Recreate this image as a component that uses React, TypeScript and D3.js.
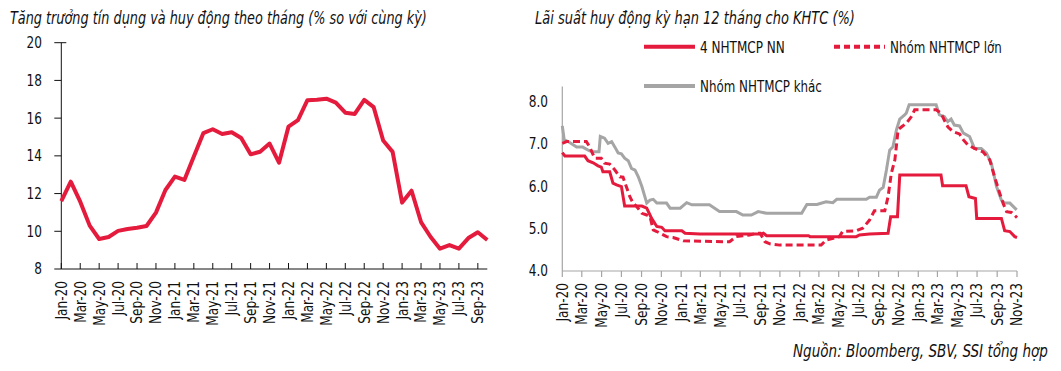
import { useEffect, useRef } from 'react';
import * as d3 from 'd3';

// Left chart: monthly credit growth, % y/y (Jan-20 .. Oct-23)
const creditGrowth = [
  11.6, 12.63, 11.57, 10.3, 9.59, 9.7, 10.02, 10.12, 10.19, 10.28, 10.99, 12.19,
  12.9, 12.72, 13.96, 15.2, 15.41, 15.16, 15.25, 14.95, 14.08, 14.22, 14.65, 13.64,
  15.55, 15.9, 16.95, 16.97, 17.03, 16.82, 16.29, 16.22, 16.97, 16.58, 14.81, 14.21,
  11.52, 12.15, 10.49, 9.71, 9.08, 9.27, 9.08, 9.64, 9.95, 9.54,
];
const leftYTicks = [8, 10, 12, 14, 16, 18, 20];

// Right chart: 12-month deposit rate (%)
const stateBanks: [string, number][] = [
  ['2020-01-01', 6.79], ['2020-01-09', 6.71], ['2020-03-10', 6.71], ['2020-03-20', 6.6],
  ['2020-04-05', 6.55], ['2020-04-20', 6.48], ['2020-04-30', 6.45], ['2020-05-05', 6.34],
  ['2020-05-26', 6.34], ['2020-06-05', 6.07], ['2020-06-16', 6.03], ['2020-07-01', 5.99],
  ['2020-07-11', 5.53], ['2020-09-02', 5.53], ['2020-09-17', 5.48], ['2020-09-27', 5.32],
  ['2020-10-02', 5.24], ['2020-10-18', 5.05], ['2020-11-02', 5.03], ['2020-11-12', 4.95],
  ['2021-01-03', 4.95], ['2021-01-13', 4.89], ['2021-02-28', 4.87], ['2021-09-01', 4.87],
  ['2021-09-11', 4.89], ['2021-09-21', 4.83], ['2022-01-28', 4.83], ['2022-02-02', 4.81],
  ['2022-06-24', 4.81], ['2022-07-04', 4.85], ['2022-08-04', 4.87], ['2022-09-30', 4.89],
  ['2022-10-08', 5.28], ['2022-10-29', 5.28], ['2022-11-05', 6.26], ['2023-03-12', 6.26],
  ['2023-03-17', 6.01], ['2023-05-28', 6.01], ['2023-06-06', 5.75], ['2023-06-26', 5.71],
  ['2023-06-30', 5.24], ['2023-09-14', 5.24], ['2023-09-24', 4.95], ['2023-10-10', 4.93],
  ['2023-10-25', 4.81], ['2023-11-01', 4.79],
];
const largeBanks: [string, number][] = [
  ['2020-01-01', 7.01], ['2020-01-14', 7.05], ['2020-03-15', 7.05], ['2020-03-25', 6.93],
  ['2020-04-05', 6.74], ['2020-04-10', 6.66], ['2020-04-30', 6.66], ['2020-05-10', 6.54],
  ['2020-05-26', 6.52], ['2020-06-11', 6.38], ['2020-06-26', 6.22], ['2020-07-06', 6.21],
  ['2020-07-16', 5.99], ['2020-07-27', 5.75], ['2020-08-06', 5.6], ['2020-08-17', 5.52],
  ['2020-09-02', 5.36], ['2020-09-17', 5.32], ['2020-09-27', 5.28], ['2020-10-07', 4.97],
  ['2020-10-18', 4.93], ['2020-11-07', 4.85], ['2020-11-17', 4.81], ['2020-12-07', 4.79],
  ['2021-01-08', 4.71], ['2021-05-09', 4.69], ['2021-05-30', 4.69], ['2021-06-20', 4.81],
  ['2021-07-10', 4.83], ['2021-07-31', 4.85], ['2021-08-21', 4.89], ['2021-09-01', 4.89],
  ['2021-09-16', 4.69], ['2021-10-01', 4.64], ['2021-11-01', 4.61], ['2022-03-08', 4.61],
  ['2022-03-23', 4.73], ['2022-05-03', 4.81], ['2022-05-13', 4.93], ['2022-06-24', 4.95],
  ['2022-07-14', 5.01], ['2022-08-04', 5.2], ['2022-08-19', 5.42], ['2022-09-20', 5.42],
  ['2022-09-30', 5.75], ['2022-10-10', 6.3], ['2022-10-21', 6.62], ['2022-10-31', 7.33],
  ['2022-11-11', 7.4], ['2022-11-25', 7.48], ['2022-12-11', 7.64], ['2022-12-21', 7.8],
  ['2023-02-25', 7.8], ['2023-03-12', 7.72], ['2023-03-22', 7.56], ['2023-04-02', 7.4],
  ['2023-04-17', 7.29], ['2023-05-08', 7.23], ['2023-05-20', 7.09], ['2023-06-03', 6.97],
  ['2023-06-23', 6.89], ['2023-07-19', 6.81], ['2023-08-09', 6.62], ['2023-08-24', 6.22],
  ['2023-09-09', 5.83], ['2023-09-19', 5.6], ['2023-09-30', 5.4], ['2023-10-15', 5.38],
  ['2023-11-01', 5.26],
];
const otherBanks: [string, number][] = [
  ['2020-01-01', 7.42], ['2020-01-07', 7.09], ['2020-01-19', 7.05], ['2020-02-14', 6.92],
  ['2020-03-04', 6.92], ['2020-03-25', 6.83], ['2020-04-05', 6.81], ['2020-04-23', 6.81],
  ['2020-04-27', 7.17], ['2020-05-10', 7.13], ['2020-05-21', 7.01], ['2020-06-01', 7.05],
  ['2020-06-11', 6.92], ['2020-06-21', 6.78], ['2020-07-01', 6.76], ['2020-07-11', 6.66],
  ['2020-07-22', 6.6], ['2020-08-01', 6.42], ['2020-08-12', 6.38], ['2020-08-22', 6.22],
  ['2020-09-02', 5.99], ['2020-09-17', 5.6], ['2020-09-27', 5.67], ['2020-10-07', 5.69],
  ['2020-10-18', 5.6], ['2020-11-17', 5.6], ['2020-11-28', 5.48], ['2020-12-29', 5.48],
  ['2021-01-18', 5.61], ['2021-02-03', 5.56], ['2021-03-29', 5.56], ['2021-04-29', 5.4],
  ['2021-06-20', 5.4], ['2021-07-10', 5.32], ['2021-08-05', 5.32], ['2021-08-26', 5.4],
  ['2021-09-21', 5.36], ['2022-01-07', 5.36], ['2022-01-23', 5.57], ['2022-02-23', 5.57],
  ['2022-03-23', 5.63], ['2022-04-13', 5.61], ['2022-04-25', 5.69], ['2022-07-25', 5.69],
  ['2022-08-04', 5.74], ['2022-08-25', 5.74], ['2022-09-04', 5.91], ['2022-09-15', 5.97],
  ['2022-09-25', 6.38], ['2022-10-05', 6.85], ['2022-10-15', 6.93], ['2022-10-26', 7.33],
  ['2022-11-05', 7.58], ['2022-11-20', 7.68], ['2022-11-25', 7.72], ['2022-12-04', 7.92],
  ['2023-02-25', 7.92], ['2023-03-07', 7.68], ['2023-03-22', 7.64], ['2023-04-02', 7.52],
  ['2023-04-12', 7.58], ['2023-04-22', 7.44], ['2023-05-08', 7.42], ['2023-05-20', 7.25],
  ['2023-06-08', 7.17], ['2023-06-23', 6.89], ['2023-07-14', 6.89], ['2023-07-30', 6.78],
  ['2023-08-14', 6.54], ['2023-08-30', 5.99], ['2023-09-14', 5.67], ['2023-09-24', 5.6],
  ['2023-10-10', 5.6], ['2023-10-31', 5.44],
];
const rightYTicks = [4, 5, 6, 7, 8];

const FONT = "'Liberation Sans Narrow', 'Arial Narrow', 'DejaVu Sans Condensed', sans-serif";
const RED = '#e41b3c';
const GREY = '#a5a5a5';
const INK = '#111';
const SQUEEZE = 0.87; // narrow-font look for tick labels

export default function App() {
  const svgRef = useRef<SVGSVGElement>(null);

  useEffect(() => {
    const svg = d3.select(svgRef.current);
    svg.selectAll('*').remove();
    svg.attr('font-family', FONT);

    // text squeezed horizontally so that it spans the given width
    const fitText = (g, x, y, str, width, opts: any = {}) => {
      const t = g.append('text')
        .attr('dy', opts.dy || null)
        .attr('text-anchor', opts.anchor || 'start')
        .attr('font-size', opts.size || 16)
        .attr('font-style', opts.italic ? 'italic' : null)
        .attr('fill', INK)
        .text(str);
      const len = (t.node() as SVGTextElement).getComputedTextLength() || width;
      t.attr('transform', `translate(${x},${y}) scale(${width / len},1)`);
      return t;
    };

    // ---------- Left chart ----------
    const months = d3.timeMonths(new Date(2020, 0, 1), new Date(2023, 10, 1));
    const lx = d3.scalePoint<Date>().domain(months).range([61.3, 487.3]);
    const ly = d3.scaleLinear().domain([8, 20]).range([269, 42.7]);
    const left = svg.append('g');

    fitText(left, 10, 24, 'Tăng trưởng tín dụng và huy động theo tháng (% so với cùng kỳ)', 417,
      { size: 17, italic: true });

    // y axis
    left.append('line')
      .attr('x1', lx.range()[0]).attr('x2', lx.range()[0])
      .attr('y1', ly(20)).attr('y2', ly(8))
      .attr('stroke', INK).attr('stroke-width', 1);
    leftYTicks.forEach(t => {
      left.append('line')
        .attr('x1', lx.range()[0] - 7).attr('x2', lx.range()[0] + (t === 20 ? 5 : 0))
        .attr('y1', ly(t)).attr('y2', ly(t))
        .attr('stroke', INK);
      left.append('text')
        .attr('transform', `translate(42,${ly(t)}) scale(${SQUEEZE},1)`)
        .attr('dy', '0.35em')
        .attr('text-anchor', 'end').attr('font-size', 15.5).attr('fill', INK)
        .text(t);
    });

    // x axis
    left.append('line')
      .attr('x1', lx.range()[0]).attr('x2', lx.range()[1])
      .attr('y1', ly(8)).attr('y2', ly(8))
      .attr('stroke', INK);
    months.forEach((m, i) => {
      if (i % 2 !== 0) return;
      const x = lx(m) as number;
      left.append('line')
        .attr('x1', x).attr('x2', x)
        .attr('y1', ly(8)).attr('y2', ly(8) - 6)
        .attr('stroke', INK);
      left.append('text')
        .attr('transform', `translate(${x},${ly(8) + 12}) rotate(-90) scale(${SQUEEZE},1)`)
        .attr('dy', '0.35em').attr('text-anchor', 'end')
        .attr('font-size', 15.5).attr('fill', INK)
        .text(d3.timeFormat('%b-%y')(m));
    });

    left.append('path')
      .datum(creditGrowth)
      .attr('fill', 'none').attr('stroke', RED).attr('stroke-width', 4)
      .attr('stroke-linejoin', 'round')
      .attr('d', d3.line<number>().x((d, i) => lx(months[i]) as number).y(d => ly(d)));

    // ---------- Right chart ----------
    const parse = d3.timeParse('%Y-%m-%d');
    const rx = d3.scaleTime()
      .domain([new Date(2020, 0, 1), new Date(2023, 10, 1)])
      .range([562.3, 1017]);
    const ry = d3.scaleLinear().domain([4, 8]).range([271, 101.3]);
    const right = svg.append('g');

    fitText(right, 535, 24, 'Lãi suất huy động kỳ hạn 12 tháng cho KHTC (%)', 320,
      { size: 17, italic: true });

    right.append('line')
      .attr('x1', rx.range()[0]).attr('x2', rx.range()[0])
      .attr('y1', ry(8.35)).attr('y2', ry(4))
      .attr('stroke', GREY).attr('stroke-width', 1.2);
    rightYTicks.forEach(t => {
      right.append('text')
        .attr('transform', `translate(548,${ry(t)}) scale(${SQUEEZE},1)`)
        .attr('dy', '0.35em')
        .attr('text-anchor', 'end').attr('font-size', 15.5).attr('fill', INK)
        .text(d3.format('.1f')(t));
    });

    right.append('line')
      .attr('x1', rx.range()[0]).attr('x2', rx.range()[1])
      .attr('y1', ry(4)).attr('y2', ry(4))
      .attr('stroke', GREY).attr('stroke-width', 1.2);
    rx.ticks(d3.timeMonth.every(2)!).forEach(m => {
      const x = rx(m);
      right.append('line')
        .attr('x1', x).attr('x2', x)
        .attr('y1', ry(4)).attr('y2', ry(4) + 6)
        .attr('stroke', GREY).attr('stroke-width', 1.2);
      right.append('text')
        .attr('transform', `translate(${x},${ry(4) + 12}) rotate(-90) scale(${SQUEEZE},1)`)
        .attr('dy', '0.35em').attr('text-anchor', 'end')
        .attr('font-size', 15.5).attr('fill', INK)
        .text(d3.timeFormat('%b-%y')(m));
    });

    const rline = d3.line<[string, number]>()
      .x(d => rx(parse(d[0]) as Date))
      .y(d => ry(d[1]));

    const series = [
      { name: 'Nhóm NHTMCP khác', data: otherBanks, color: GREY, dash: null, lx: 644, ly: 86, w: 122 },
      { name: 'Nhóm NHTMCP lớn', data: largeBanks, color: RED, dash: '7,4', lx: 834, ly: 46.7, w: 112 },
      { name: '4 NHTMCP NN', data: stateBanks, color: RED, dash: null, lx: 644, ly: 46.7, w: 85 },
    ];

    series.forEach(s => {
      right.append('path')
        .datum(s.data)
        .attr('fill', 'none').attr('stroke', s.color).attr('stroke-width', 3)
        .attr('stroke-dasharray', s.dash)
        .attr('d', rline);

      // legend
      right.append('line')
        .attr('x1', s.lx).attr('x2', s.lx + 51)
        .attr('y1', s.ly).attr('y2', s.ly)
        .attr('stroke', s.color).attr('stroke-width', 4)
        .attr('stroke-dasharray', s.dash ? '6,4' : null);
      fitText(right, s.lx + 56, s.ly, s.name, s.w, { size: 16.5, dy: '0.36em' });
    });

    fitText(svg, 793, 357, 'Nguồn:  Bloomberg, SBV, SSI tổng hợp', 255, { size: 17, italic: true });
  }, []);

  return (
    <div style={{ position: 'absolute', left: 0, top: 0 }}>
      <svg ref={svgRef} width={1061} height={371} style={{ display: 'block', background: '#fff' }} />
    </div>
  );
}
